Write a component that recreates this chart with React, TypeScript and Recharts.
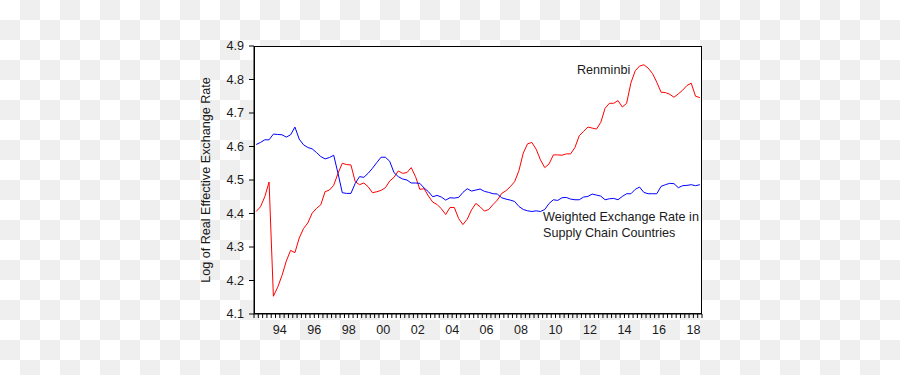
import React from 'react';
import { LineChart, Line, XAxis, YAxis } from 'recharts';

// quarterly observations, 1993Q1 .. 2018Q4
const years = [
  1993, 1994, 1995, 1996, 1997, 1998, 1999, 2000, 2001, 2002, 2003, 2004, 2005,
  2006, 2007, 2008, 2009, 2010, 2011, 2012, 2013, 2014, 2015, 2016, 2017, 2018,
];

const renminbi = [
  4.406, 4.420, 4.450, 4.494,
  4.153, 4.180, 4.215, 4.258,
  4.290, 4.283, 4.327, 4.355,
  4.372, 4.401, 4.415, 4.426,
  4.465, 4.470, 4.484, 4.520,
  4.550, 4.546, 4.545, 4.495,
  4.486, 4.491, 4.480, 4.462,
  4.465, 4.469, 4.477, 4.497,
  4.508, 4.527, 4.520, 4.522,
  4.537, 4.510, 4.472, 4.474,
  4.452, 4.434, 4.427, 4.414,
  4.397, 4.418, 4.418, 4.385,
  4.367, 4.383, 4.411, 4.430,
  4.420, 4.407, 4.412, 4.427,
  4.440, 4.460, 4.468, 4.480,
  4.495, 4.528, 4.580, 4.608,
  4.612, 4.592, 4.560, 4.537,
  4.548, 4.575, 4.575, 4.574,
  4.578, 4.578, 4.597, 4.632,
  4.645, 4.658, 4.655, 4.652,
  4.672, 4.714, 4.729, 4.729,
  4.737, 4.718, 4.729, 4.790,
  4.826, 4.840, 4.844, 4.834,
  4.818, 4.792, 4.762, 4.761,
  4.756, 4.747, 4.757, 4.768,
  4.782, 4.789, 4.750, 4.746,
];

const supplyChain = [
  4.606, 4.612, 4.620, 4.620,
  4.637, 4.636, 4.635, 4.628,
  4.635, 4.658, 4.622, 4.605,
  4.597, 4.593, 4.582, 4.570,
  4.563, 4.567, 4.574, 4.520,
  4.462, 4.460, 4.460, 4.490,
  4.510, 4.508, 4.520, 4.535,
  4.552, 4.568, 4.568, 4.556,
  4.522, 4.510, 4.503, 4.500,
  4.491, 4.491, 4.490, 4.476,
  4.465, 4.450, 4.454, 4.449,
  4.440, 4.447, 4.446, 4.448,
  4.463, 4.474, 4.467, 4.470,
  4.473, 4.466, 4.463, 4.459,
  4.458, 4.447, 4.443, 4.440,
  4.436, 4.421, 4.412, 4.408,
  4.406, 4.408, 4.406, 4.412,
  4.430, 4.441, 4.439, 4.447,
  4.448, 4.443, 4.441, 4.441,
  4.449, 4.451, 4.458, 4.455,
  4.452, 4.441, 4.444, 4.445,
  4.441, 4.451, 4.459, 4.459,
  4.472, 4.479, 4.463, 4.459,
  4.459, 4.459, 4.481, 4.486,
  4.490, 4.489, 4.477, 4.483,
  4.484, 4.486, 4.483, 4.486,
];

const yTicks = [4.1, 4.2, 4.3, 4.4, 4.5, 4.6, 4.7, 4.8, 4.9];
const xLabels = ['94', '96', '98', '00', '02', '04', '06', '08', '10', '12', '14', '16', '18'];

const data = renminbi.map((r, i) => ({
  t: years[Math.floor(i / 4)] + (i % 4) / 4 + 0.125,
  renminbi: r,
  supplyChain: supplyChain[i],
}));

// one tick per quarter boundary, labels sit mid-year
const quarterTicks = Array.from({ length: years.length * 4 + 1 }, (_, i) => years[0] + i / 4);

const font = '"Liberation Sans", Arial, sans-serif';
const textColor = '#1a1a1a';

function XTick(props: any) {
  const { x, y, payload } = props;
  const v = payload.value;
  const yr = v - 0.5;
  const label = Number.isInteger(yr) ? xLabels.find((l) => l === String(yr).slice(2)) : undefined;
  if (!label) return null;
  return (
    <text x={x} y={y + 10} dy="0.355em" textAnchor="middle" fontSize={12.6} fontFamily={font} fill={textColor}>
      {label}
    </text>
  );
}

function YTitle(props: any) {
  const { viewBox } = props;
  const cx = viewBox.x + 12;
  const cy = viewBox.y + viewBox.height / 2;
  return (
    <text
      x={cx}
      y={cy}
      dy="0.355em"
      textAnchor="middle"
      transform={`rotate(-90 ${cx} ${cy})`}
      fontSize={12.6}
      fontFamily={font}
      fill={textColor}
    >
      Log of Real Effective Exchange Rate
    </text>
  );
}

const noteStyle: React.CSSProperties = {
  position: 'absolute',
  fontFamily: font,
  fontSize: 12.6,
  lineHeight: '15.6px',
  color: textColor,
  whiteSpace: 'nowrap',
};

export default function App() {
  return (
    <div
      style={{
        position: 'absolute',
        left: 0,
        top: 0,
        width: 900,
        height: 375,
        backgroundColor: '#fff',
        backgroundImage: 'conic-gradient(#efefef 0 25%, #fff 0 50%, #efefef 0 75%, #fff 0)',
        backgroundSize: '40px 40px',
      }}
    >
      <div
        style={{
          position: 'absolute',
          left: 254,
          top: 46,
          width: 448,
          height: 268,
          background: '#fff',
          border: '1px solid #000',
          boxSizing: 'border-box',
        }}
      />
      <div style={{ position: 'absolute', left: 0, top: 0 }}>
        <LineChart width={900} height={375} data={data} margin={{ top: 46, right: 198, bottom: 31, left: 194 }}>
          <XAxis
            dataKey="t"
            type="number"
            domain={[1993, 2019]}
            ticks={quarterTicks}
            interval={0}
            tick={<XTick />}
            tickSize={4}
            height={30}
            axisLine={{ stroke: '#000' }}
            tickLine={{ stroke: '#000' }}
            allowDataOverflow
          />
          <YAxis
            type="number"
            domain={[4.1, 4.9]}
            ticks={yTicks}
            interval={0}
            width={60}
            tickSize={5}
            tickMargin={5}
            tickFormatter={(v: number) => v.toFixed(1)}
            tick={{ fontSize: 12.6, fontFamily: font, fill: textColor }}
            axisLine={{ stroke: '#000' }}
            tickLine={{ stroke: '#000' }}
            label={<YTitle />}
            allowDataOverflow
          />
          <Line dataKey="renminbi" stroke="#ff0000" strokeWidth={1} dot={false} type="linear" isAnimationActive={false} />
          <Line dataKey="supplyChain" stroke="#0000ff" strokeWidth={1} dot={false} type="linear" isAnimationActive={false} />
        </LineChart>
      </div>
      <div style={{ ...noteStyle, left: 577, top: 63 }}>Renminbi</div>
      <div style={{ ...noteStyle, left: 543, top: 210 }}>
        Weighted Exchange Rate in
        <br />
        Supply Chain Countries
      </div>
    </div>
  );
}
